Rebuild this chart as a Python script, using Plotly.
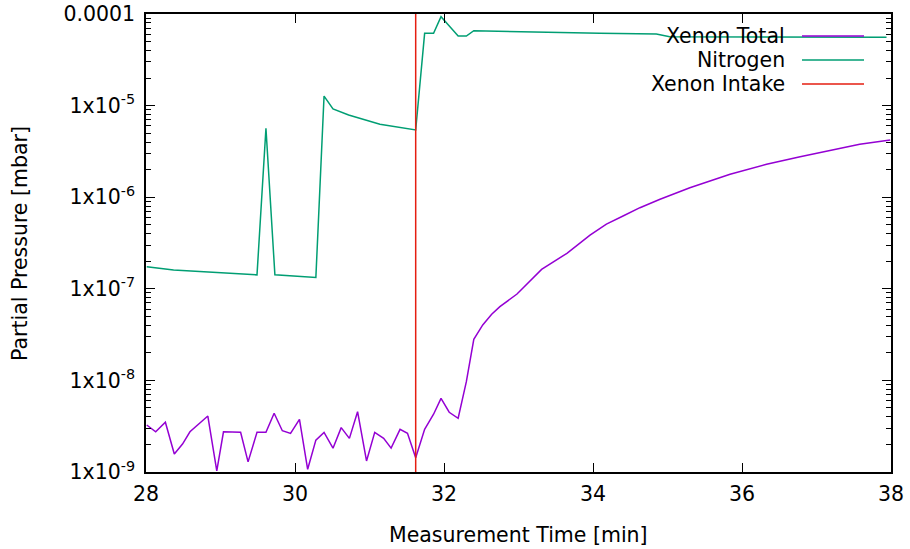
import plotly.graph_objects as go

# ---------------- data ----------------
xenon_time = [28.01, 28.13, 28.26, 28.38, 28.49, 28.59, 28.83, 28.95, 29.04, 29.27,
              29.37, 29.49, 29.61, 29.72, 29.83, 29.94, 30.06, 30.17, 30.28, 30.39,
              30.51, 30.62, 30.73, 30.84, 30.96, 31.07, 31.19, 31.29, 31.41, 31.51,
              31.62, 31.74, 31.86, 31.96, 32.07, 32.19, 32.30, 32.40, 32.52, 32.64,
              32.75, 32.98, 33.31, 33.65, 33.96, 34.18, 34.41, 34.63, 34.90, 35.30,
              35.84, 36.33, 36.78, 37.18, 37.58, 37.99]
xenon_total = [3.26e-9, 2.75e-9, 3.49e-9, 1.57e-9, 2.02e-9, 2.75e-9, 4.08e-9, 1.03e-9, 2.75e-9, 2.71e-9,
               1.29e-9, 2.71e-9, 2.71e-9, 4.38e-9, 2.82e-9, 2.64e-9, 3.76e-9, 1.07e-9, 2.23e-9, 2.71e-9,
               1.82e-9, 3.05e-9, 2.33e-9, 4.55e-9, 1.32e-9, 2.71e-9, 2.33e-9, 1.82e-9, 2.92e-9, 2.64e-9,
               1.43e-9, 2.92e-9, 4.27e-9, 6.37e-9, 4.49e-9, 3.86e-9, 9.68e-9, 2.81e-8, 4.03e-8, 5.27e-8,
               6.38e-8, 8.77e-8, 1.63e-7, 2.44e-7, 3.86e-7, 5.09e-7, 6.28e-7, 7.68e-7, 9.48e-7, 1.27e-6,
               1.78e-6, 2.29e-6, 2.77e-6, 3.22e-6, 3.78e-6, 4.21e-6]

nitrogen_time = [28.01, 28.37, 29.49, 29.61, 29.73, 30.28, 30.39, 30.51, 30.72, 31.14,
                 31.62, 31.74, 31.86, 31.96, 32.08, 32.19, 32.30, 32.40, 34.09, 34.85,
                 35.03, 37.94]
nitrogen = [1.74e-7, 1.60e-7, 1.42e-7, 5.65e-6, 1.42e-7, 1.33e-7, 1.27e-5, 9.19e-6, 7.89e-6, 6.25e-6,
            5.42e-6, 6.15e-5, 6.15e-5, 9.35e-5, 7.26e-5, 5.75e-5, 5.75e-5, 6.58e-5, 6.15e-5, 6.05e-5,
            5.65e-5, 5.57e-5]

intake_time = 31.62
intake_y = [1e-9, 1e-4]

series_names = ["Xenon Total", "Nitrogen", "Xenon Intake"]
series_colors = ["#9400d3", "#009e73", "#e51e10"]

x_ticks = [28, 30, 32, 34, 36, 38]
y_ticks = [1e-9, 1e-8, 1e-7, 1e-6, 1e-5, 1e-4]
y_ticklabels = ["1x10<sup>-9</sup>", "1x10<sup>-8</sup>", "1x10<sup>-7</sup>",
                "1x10<sup>-6</sup>", "1x10<sup>-5</sup>", "0.0001"]
y_minor = [m * 10.0 ** e for e in range(-9, -4) for m in range(2, 10)]

# ---------------- figure ----------------
FONT = "DejaVu Sans"
FS = 20.5
L, R, T, B = 146, 19, 14, 77
W, H = 910, 549
pw, ph = W - L - R, H - T - B

fig = go.Figure()
fig.add_trace(go.Scatter(x=xenon_time, y=xenon_total, mode="lines",
                         line=dict(color=series_colors[0], width=1.5), name=series_names[0]))
fig.add_trace(go.Scatter(x=nitrogen_time, y=nitrogen, mode="lines",
                         line=dict(color=series_colors[1], width=1.5), name=series_names[1]))
fig.add_trace(go.Scatter(x=[intake_time, intake_time], y=intake_y, mode="lines",
                         line=dict(color=series_colors[2], width=1.5), name=series_names[2]))

axis_common = dict(showline=True, linecolor="black", linewidth=1.5, mirror="allticks",
                   ticks="inside", tickcolor="black", ticklen=9, tickwidth=1.2,
                   showgrid=False, zeroline=False, automargin=False,
                   tickfont=dict(family=FONT, size=FS, color="black"))

fig.update_xaxes(range=[28, 38], tickvals=x_ticks, ticktext=[str(v) for v in x_ticks],
                 ticklabelstandoff=3, **axis_common)
fig.update_yaxes(type="log", range=[-9, -4], tickvals=y_ticks, ticktext=y_ticklabels,
                 ticklabelstandoff=5,
                 minor=dict(tickmode="array", tickvals=y_minor, ticks="inside",
                            ticklen=5, tickcolor="black", tickwidth=1.2, showgrid=False),
                 **axis_common)

# axis titles
annotations = [
    dict(text="Measurement Time [min]", xref="paper", yref="paper",
         x=(518 - L) / pw, y=-(535 - (H - B)) / ph, xanchor="center", yanchor="middle",
         showarrow=False, font=dict(family=FONT, size=FS, color="black")),
    dict(text="Partial Pressure [mbar]", xref="paper", yref="paper",
         x=(20 - L) / pw, y=1 - (243 - T) / ph, xanchor="center", yanchor="middle",
         textangle=-90, showarrow=False, font=dict(family=FONT, size=FS, color="black")),
]
shapes = []
# custom legend (text right-aligned, sample line to the right)
legend_y = [36, 60, 84]
for name, color, yy in zip(series_names, series_colors, legend_y):
    yp = 1 - (yy - T) / ph
    annotations.append(dict(text=name, xref="paper", yref="paper",
                            x=(787 - L) / pw, y=yp, xanchor="right", yanchor="middle",
                            showarrow=False, font=dict(family=FONT, size=FS, color="black")))
    shapes.append(dict(type="line", xref="paper", yref="paper",
                       x0=(802 - L) / pw, x1=(864 - L) / pw, y0=yp, y1=yp,
                       line=dict(color=color, width=1.5)))

fig.update_layout(width=W, height=H, margin=dict(l=L, r=R, t=T, b=B),
                  plot_bgcolor="white", paper_bgcolor="white", showlegend=False,
                  annotations=annotations, shapes=shapes,
                  font=dict(family=FONT, size=FS, color="black"))

fig.write_html("out.html", config={"displayModeBar": False},
               post_script="document.body.style.margin='0';")
